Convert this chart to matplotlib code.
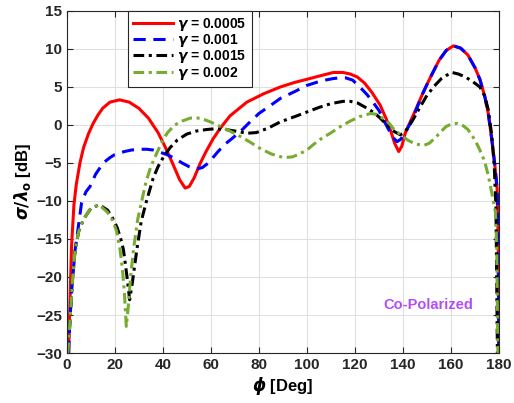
import matplotlib
matplotlib.use('Agg')
import matplotlib.pyplot as plt

# readings, phi in degrees, sigma/lambda in dB
phi_r = [0.8, 1.2, 2, 3, 4, 5.5, 7, 9, 11, 13, 15, 18, 22, 26, 30, 34, 38, 41, 44, 47, 49.3, 51, 53, 55.5, 58,
         61, 64, 68, 75, 82, 89, 95, 100, 106, 111, 115, 118, 121, 124, 127, 130.5, 133, 135, 136.5, 138.2, 139.5,
         141, 143, 145, 148, 151, 155, 158, 161, 164, 167, 170, 172, 174, 175.5, 177, 178.3, 179.2, 179.6, 179.9]
sig_r = [-30, -25, -16, -10.5, -7.8, -5, -3, -1.2, 0.2, 1.3, 2.2, 3.0, 3.3, 3.0, 2.2, 0.9, -1, -2.9, -5, -7.2, -8.3, -8.1, -7,
         -5.1, -3.5, -1.8, -0.4, 1.2, 3.0, 4.1, 5.0, 5.6, 6.0, 6.5, 6.9, 6.9, 6.7, 6.3, 5.5, 4.3, 2.6, 0.8, -0.9, -2.4, -3.5, -2.8,
         -1, 0.4, 1.8, 4.0, 6.0, 8.5, 9.8, 10.4, 10.1, 9.2, 7.5, 6.0, 3.8, 1.5, -2.0, -5.5, -8.5, -15, -30]

phi_b = [0.8, 1.3, 2, 3.5, 5, 6.2, 8, 9.7, 12, 15.2, 18, 20, 24, 27, 30, 33.3, 36, 38, 41.7, 45, 48, 51, 54.2,
         56.5, 59, 63, 66, 68, 72.2, 76, 80, 85, 89, 95, 100, 106, 111, 114, 116, 119, 122, 125, 127.5, 130, 132,
         134, 136, 137.5, 139, 141, 143, 145, 148, 151, 155, 158, 161, 164, 167, 170, 172, 174, 175.5, 177, 178.3, 179.2, 179.6, 179.9]
sig_b = [-30, -26, -22, -16.4, -13, -10.2, -8.8, -8.1, -6.5, -5, -4.3, -3.9, -3.5, -3.3, -3.2, -3.2, -3.3, -3.5, -3.9, -4.4, -5.0, -5.5, -5.8,
         -5.6, -5.0, -3.5, -2.5, -2.0, -0.9, 0.3, 1.5, 2.6, 3.5, 4.4, 5.2, 5.8, 6.1, 6.2, 6.2, 5.9, 5.0, 4.0, 3.0, 1.9, 0.6,
         -0.6, -1.7, -2.2, -1.9, -1.0, 0.2, 1.6, 4.0, 6.0, 8.5, 9.8, 10.4, 10.1, 9.2, 7.5, 6.0, 3.8, 1.5, -2.0, -5.5, -8.5, -15, -30]

phi_k = [0.5, 1.5, 2.5, 3.5, 5, 7, 10, 13.5, 17, 19, 21, 22.5, 23.6, 24.5, 25.3, 26.2, 27.2, 28.2, 29.2, 31, 33.3, 36, 38,
         40.3, 43, 46, 50, 54, 58.3, 62, 66, 70, 75, 79, 84, 88.9, 95, 100, 105, 110, 115, 118, 121, 125, 128, 130.5,
         133, 135, 136.5, 138.9, 140.5, 142, 144, 147, 150, 153, 156, 158, 160.4, 163, 166, 169, 172, 174, 175.5, 177,
         178, 178.7, 179.3]
sig_k = [-30, -25, -20, -16.4, -14, -12.4, -11, -10.5, -11.2, -12.2, -13.5, -15, -16.4, -18.5, -20.5, -23, -21, -18.7, -16.4, -12.7,
         -9.9, -7.0, -5.5, -4.2, -3.0, -2.0, -1.2, -0.8, -0.6, -0.5, -0.6, -0.8, -1.1, -1.0, -0.4, 0.4, 1.1, 1.7, 2.3, 2.8, 3.1, 3.1,
         2.9, 2.2, 1.6, 0.9, 0.1, -0.5, -0.9, -1.3, -1.0, -0.4, 0.6, 2.3, 3.9, 5.1, 6.1, 6.5, 6.9, 6.7, 6.3, 5.7, 5.0, 3.8, 2.0, -1.5,
         -5.5, -11, -30]

phi_g = [0.5, 1.5, 2.5, 3.5, 5, 7, 10, 13.5, 17, 19, 20.8, 22.2, 23.2, 24, 24.8, 25.6, 26.6, 27.8, 29.5, 31.3, 33, 35,
         37.5, 40, 42, 45, 48, 51.4, 55.6, 59, 62, 66, 72.2, 76, 80, 85, 90.3, 94, 97, 100, 103, 106, 109.7, 114, 118,
         122, 126.4, 129, 131, 134, 136, 139, 142, 145, 148.6, 151, 154, 156, 158, 160, 162.5, 165, 167, 170, 172,
         174, 175.6, 177, 178.5, 179, 179.5]
sig_g = [-30, -25, -20, -16.4, -14, -12.4, -11, -10.5, -11.5, -12.5, -14, -16.4, -19, -22, -26.5, -24, -20, -16.4, -12.5, -9.9, -7.5,
         -5.5, -3.7, -2.0, -1.0, 0.0, 0.5, 0.9, 0.9, 0.5, 0.1, -0.5, -1.5, -2.2, -3.0, -3.8, -4.3, -4.2, -3.8, -3.3, -2.5, -1.8,
         -1.1, -0.2, 0.5, 1.1, 1.5, 1.4, 1.0, 0.3, -0.5, -1.3, -2.0, -2.5, -2.7, -2.4, -1.5, -0.8, -0.2, 0.1, 0.2, -0.1, -0.6,
         -2.0, -3.3, -4.8, -6.8, -9.0, -11.5, -16, -30]

labels = [r'$\gamma$ = 0.0005', r'$\gamma$ = 0.001', r'$\gamma$ = 0.0015', r'$\gamma$ = 0.002']

plt.rcParams['font.family'] = ['Liberation Sans', 'DejaVu Sans']
plt.rcParams['font.weight'] = 'bold'
plt.rcParams['mathtext.fontset'] = 'dejavusans'

fig = plt.figure(figsize=(5.14, 4.03), dpi=100)
ax = fig.add_axes([0.1298, 0.124, 0.8412, 0.849])

ax.plot(phi_r, sig_r, color='r', ls='-', lw=2.2, label=labels[0])
ax.plot(phi_b, sig_b, color='b', ls=(0, (4, 2.5)), lw=2.2, label=labels[1])
ax.plot(phi_k, sig_k, color='k', ls=(0, (3.5, 1.5, 1, 1.5)), lw=2.2, label=labels[2])
ax.plot(phi_g, sig_g, color='#77AC30', ls=(0, (3.5, 1.5, 1, 1.5)), lw=2.2, label=labels[3])

ax.set_xlim(0, 180)
ax.set_ylim(-30, 15)
ax.set_xticks(range(0, 181, 20))
ax.set_yticks(range(-30, 16, 5))
ax.grid(True, color='#e0e0e0', lw=0.8)
ax.set_axisbelow(True)
ax.tick_params(direction='in', top=True, right=True, labelsize=11, colors='#262626', length=4)
for sp in ax.spines.values():
    sp.set_color('#262626')
    sp.set_linewidth(0.8)

ax.set_xlabel(r'$\phi$ [Deg]', fontsize=12, fontweight='bold', labelpad=2)
ax.set_ylabel(r'$\sigma/\lambda_\mathbf{o}$ [dB]', fontsize=12, fontweight='bold', labelpad=2)

leg = ax.legend(loc='upper left', bbox_to_anchor=(0.142, 1.0), fontsize=10, frameon=True, fancybox=False,
                handlelength=2.9, handletextpad=0.3, borderpad=0.35, labelspacing=-0.05, borderaxespad=0)
leg.get_frame().set_edgecolor('#262626')
leg.get_frame().set_linewidth(0.8)
leg.get_frame().set_alpha(1)

ax.text(150.5, -23.7, 'Co-Polarized', color='#B44CF5', fontsize=10.5, fontweight='bold', ha='center', va='center')

fig.savefig('out.png', dpi=100)
